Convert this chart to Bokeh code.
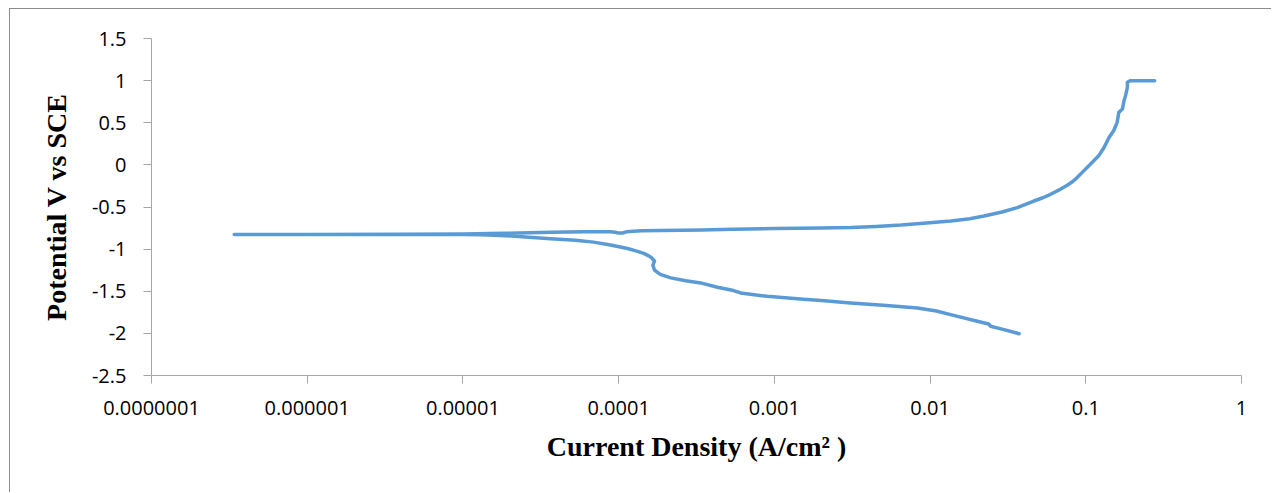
from bokeh.plotting import figure
from bokeh.models import Range1d, FixedTicker
from bokeh.embed import file_html
from bokeh.resources import INLINE

# ---- data ----
# anodic branch (from corrosion point upward)
anodic_i = [3.4e-7, 1e-6, 4e-6, 1e-5, 1.8e-5, 3.7e-5, 6e-5, 8.9e-5, 9.5e-5, 1.0e-4,
            1.06e-4, 1.13e-4, 1.25e-4, 1.4e-4, 3.4e-4, 5.5e-4, 1.0e-3, 2.0e-3, 3.1e-3,
            4.5e-3, 6.5e-3, 9.5e-3, 0.0136, 0.018, 0.0222, 0.029, 0.0363, 0.041, 0.0464,
            0.053, 0.0594, 0.067, 0.076, 0.082, 0.088, 0.097, 0.107, 0.121, 0.131,
            0.141, 0.151, 0.159, 0.163, 0.172, 0.176, 0.180, 0.185, 0.185, 0.194, 0.277]
anodic_E = [-0.825, -0.825, -0.824, -0.820, -0.813, -0.800, -0.795, -0.794, -0.800, -0.810,
            -0.808, -0.793, -0.787, -0.783, -0.774, -0.765, -0.755, -0.748, -0.742,
            -0.730, -0.714, -0.690, -0.667, -0.640, -0.607, -0.560, -0.508, -0.470, -0.429,
            -0.390, -0.349, -0.300, -0.242, -0.200, -0.151, -0.071, 0.008, 0.107, 0.206,
            0.325, 0.405, 0.504, 0.623, 0.663, 0.762, 0.821, 0.920, 0.980, 1.0, 1.0]
# cathodic branch (from corrosion point downward)
cath_i = [3.4e-7, 1e-6, 4e-6, 1e-5, 1.3e-5, 1.74e-5, 2.52e-5, 3.66e-5, 5.28e-5, 6.9e-5,
          8.87e-5, 1.14e-4, 1.29e-4, 1.45e-4, 1.56e-4, 1.62e-4, 1.70e-4, 1.66e-4,
          1.70e-4, 1.85e-4, 2.16e-4, 2.7e-4, 3.36e-4, 4.31e-4, 5.47e-4, 6.07e-4, 9.0e-4,
          1.47e-3, 2.1e-3, 3.08e-3, 5.0e-3, 8.3e-3, 0.011, 0.01355, 0.0201, 0.0238,
          0.0245, 0.0298, 0.0373]
cath_E = [-0.825, -0.825, -0.825, -0.826, -0.830, -0.837, -0.855, -0.877, -0.895, -0.917,
          -0.950, -0.992, -1.020, -1.051, -1.080, -1.100, -1.140, -1.190,
          -1.250, -1.300, -1.341, -1.375, -1.401, -1.452, -1.492, -1.520, -1.560,
          -1.591, -1.612, -1.639, -1.665, -1.698, -1.735, -1.778, -1.857, -1.889,
          -1.915, -1.956, -2.004]

x_ticks = [1e-7, 1e-6, 1e-5, 1e-4, 1e-3, 1e-2, 1e-1, 1.0]
x_tick_labels = ["0.0000001", "0.000001", "0.00001", "0.0001", "0.001", "0.01", "0.1", "1"]
y_ticks = [-2.5, -2.0, -1.5, -1.0, -0.5, 0.0, 0.5, 1.0, 1.5]
y_tick_labels = ["-2.5", "-2", "-1.5", "-1", "-0.5", "0", "0.5", "1", "1.5"]

x_title = "Current Density (A/cm\u00b2 )"
y_title = "Potential V vs SCE"

LINE = "#5b9bd5"
AXIS = "#a6a6a6"
TICK_FONT = "Open Sans"
TITLE_FONT = "Liberation Serif"

p = figure(width=1262, height=484, x_axis_type="log",
           x_range=Range1d(1e-7, 1.0), y_range=Range1d(-2.5, 1.5),
           output_backend="svg", toolbar_location=None,
           min_border_left=141, min_border_right=31,
           min_border_top=29, min_border_bottom=118)
p.styles = {"margin-left": "9px", "margin-top": "8px",
            "border-left": "1px solid #8c8c8c", "border-top": "1px solid #8c8c8c"}
p.outline_line_color = None
p.grid.visible = False
p.background_fill_color = "white"
p.border_fill_color = "white"

# one continuous scan: cathodic end -> corrosion point -> anodic end
xs = list(reversed(cath_i)) + anodic_i[1:]
ys = list(reversed(cath_E)) + anodic_E[1:]
p.line(xs, ys, line_color=LINE, line_width=3.5, line_join="round", line_cap="round")

for ax in (p.xaxis[0], p.yaxis[0]):
    ax.axis_line_color = AXIS
    ax.axis_line_width = 1
    ax.major_tick_line_color = AXIS
    ax.major_tick_in = 0
    ax.major_tick_out = 8
    ax.minor_tick_line_color = None
    ax.major_label_text_font = TICK_FONT
    ax.major_label_text_font_size = "20px"
    ax.major_label_text_color = "#000000"
    ax.axis_label_text_font = TITLE_FONT
    ax.axis_label_text_font_style = "bold"
    ax.axis_label_text_font_size = "28px"
    ax.axis_label_text_color = "#000000"

p.xaxis[0].ticker = FixedTicker(ticks=x_ticks, minor_ticks=[])
p.xaxis[0].major_label_overrides = {t: l for t, l in zip(x_ticks, x_tick_labels)}
p.xaxis[0].major_label_standoff = 17
p.xaxis[0].axis_label = x_title
p.xaxis[0].axis_label_standoff = 13

p.yaxis[0].ticker = FixedTicker(ticks=y_ticks, minor_ticks=[])
p.yaxis[0].major_label_overrides = {t: l for t, l in zip(y_ticks, y_tick_labels)}
p.yaxis[0].major_label_standoff = 17
p.yaxis[0].axis_label = y_title
p.yaxis[0].axis_label_standoff = 17

open("out.html", "w").write(file_html(p, INLINE))
